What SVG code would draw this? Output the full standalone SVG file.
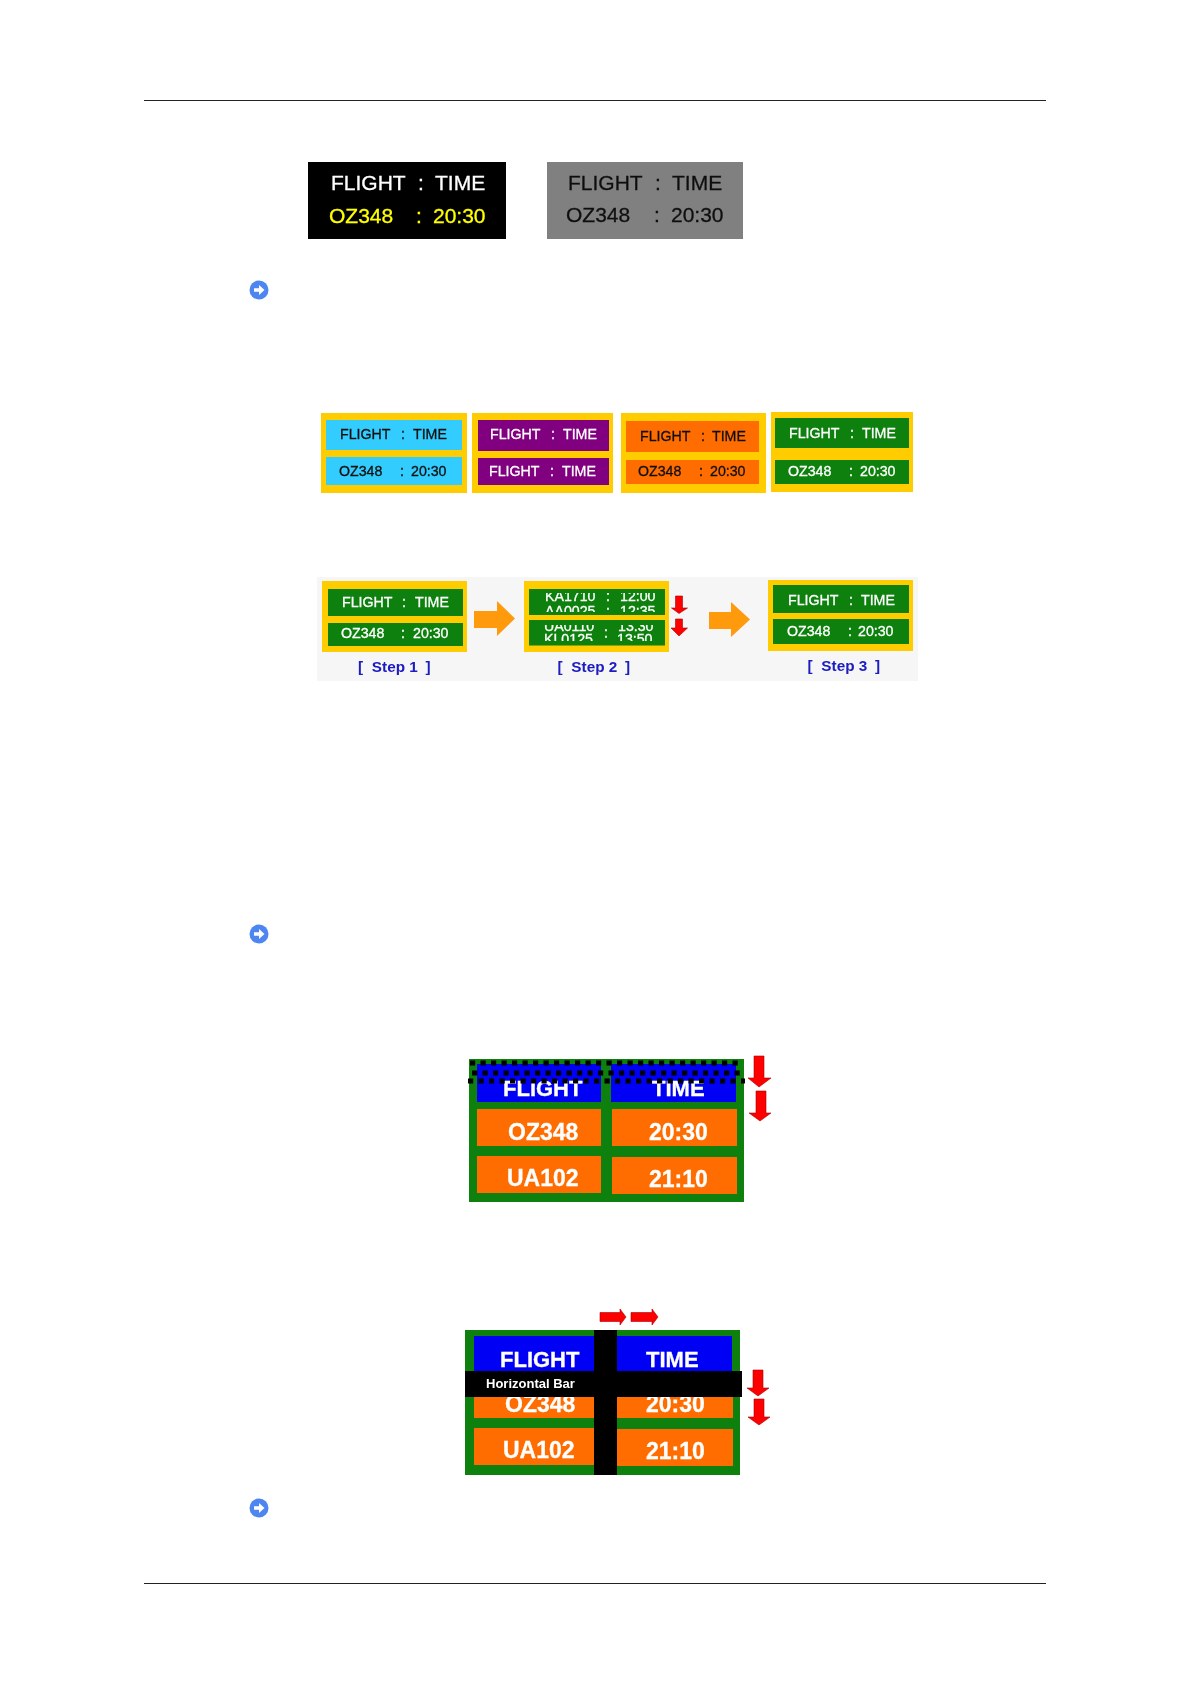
<svg xmlns="http://www.w3.org/2000/svg" width="1191" height="1684" viewBox="0 0 1191 1684">
<style>
text{font-family:"Liberation Sans",Arial,sans-serif;stroke-width:.3px}
.a{font-size:21px}.b{font-size:14.2px}
.h{font-weight:bold;font-size:22px;fill:#fff;stroke:#fff}
.s{font-weight:bold;font-size:15.3px;fill:#1a1ac0}
.w{fill:#fff;stroke:#fff}.k{fill:#111;stroke:#111}.y{fill:#ff0;stroke:#ff0}.g{fill:#ffcc00}.gr{fill:#0a800a}.o{fill:#ff6c00}.bl{fill:#0000f5}
.red{fill:#f00;stroke:#a00;stroke-width:.6}.ar{fill:#ff9a10}
.dot{stroke:#000;stroke-width:5.2;stroke-dasharray:5.2 5.3;fill:none}
</style>
<defs>
<filter id="soft" x="-5%" y="-5%" width="110%" height="110%"><feGaussianBlur stdDeviation="0.45"/></filter>
<clipPath id="c1"><rect x="529" y="593" width="136" height="19"/></clipPath>
<clipPath id="c2"><rect x="529" y="625" width="136" height="16"/></clipPath>
<g id="icon"><circle r="9.5" fill="#4d86f0"/><path d="M-5-1.8H0V-5L5.5 0 0 5V1.800H-5Z" fill="#fff"/></g>
</defs>
<g id="rules" stroke="#222" stroke-width="1"><path d="M144 100.500H1046M144 1583.500H1046"/></g>
<g id="icons"><use href="#icon" x="259" y="290"/><use href="#icon" x="259" y="934"/><use href="#icon" x="259" y="1508"/></g>
<g filter="url(#soft)">
<g id="contrast-black"><rect x="308" y="162" width="198" height="77" fill="#000"/>
<text class="a w" x="331" y="190">FLIGHT</text><text class="a w" x="418" y="190">:</text><text class="a w" x="435" y="190">TIME</text>
<text class="a y" x="329" y="223">OZ348</text><text class="a y" x="416" y="223">:</text><text class="a y" x="433" y="223">20:30</text></g>
<g id="contrast-gray"><rect x="547" y="162" width="196" height="77" fill="#808080"/>
<text class="a k" x="568" y="190">FLIGHT</text><text class="a k" x="655" y="190">:</text><text class="a k" x="672" y="190">TIME</text>
<text class="a k" x="566" y="222">OZ348</text><text class="a k" x="654" y="222">:</text><text class="a k" x="671" y="222">20:30</text></g>

<g id="panel-cyan"><rect class="g" x="321" y="413" width="146" height="80"/><rect x="326" y="420" width="136" height="30" fill="#33ccff"/><rect x="326" y="457" width="136" height="28" fill="#33ccff"/>
<text class="b k" x="340" y="439">FLIGHT</text><text class="b k" x="401" y="439">:</text><text class="b k" x="413" y="439">TIME</text>
<text class="b k" x="339" y="476">OZ348</text><text class="b k" x="400" y="476">:</text><text class="b k" x="411" y="476">20:30</text></g>
<g id="panel-purple"><rect class="g" x="472" y="413" width="141" height="80"/><rect x="478" y="420" width="131" height="31" fill="#800080"/><rect x="478" y="458" width="131" height="27" fill="#800080"/>
<text class="b w" x="490" y="439">FLIGHT</text><text class="b w" x="551" y="439">:</text><text class="b w" x="563" y="439">TIME</text>
<text class="b w" x="489" y="476">FLIGHT</text><text class="b w" x="550" y="476">:</text><text class="b w" x="562" y="476">TIME</text></g>
<g id="panel-orange"><rect class="g" x="621" y="413" width="145" height="80"/><rect class="o" x="626" y="421" width="133" height="31"/><rect class="o" x="626" y="460" width="133" height="24"/>
<text class="b k" x="640" y="441">FLIGHT</text><text class="b k" x="701" y="441">:</text><text class="b k" x="712" y="441">TIME</text>
<text class="b k" x="638" y="476">OZ348</text><text class="b k" x="699" y="476">:</text><text class="b k" x="710" y="476">20:30</text></g>
<g id="panel-green"><rect class="g" x="771" y="412" width="142" height="80"/><rect class="gr" x="775" y="418" width="134" height="30"/><rect class="gr" x="775" y="460" width="134" height="24"/>
<text class="b w" x="789" y="438">FLIGHT</text><text class="b w" x="850" y="438">:</text><text class="b w" x="862" y="438">TIME</text>
<text class="b w" x="788" y="476">OZ348</text><text class="b w" x="849" y="476">:</text><text class="b w" x="860" y="476">20:30</text></g>

<g id="steps-bg"><rect x="317" y="577" width="601" height="104" fill="#f6f6f7"/></g>
<g id="step1"><rect class="g" x="322" y="581" width="145" height="71"/><rect class="gr" x="328" y="589" width="135" height="27"/><rect class="gr" x="328" y="623" width="135" height="23"/>
<text class="b w" x="342" y="607">FLIGHT</text><text class="b w" x="402" y="607">:</text><text class="b w" x="415" y="607">TIME</text>
<text class="b w" x="341" y="638">OZ348</text><text class="b w" x="401" y="638">:</text><text class="b w" x="413" y="638">20:30</text>
<text class="s" x="358" y="671.500">[ <tspan dx="4.500">Step 1</tspan> <tspan dx="3.500">]</tspan></text></g>
<g id="step2"><rect class="g" x="524" y="581" width="145" height="71"/><rect class="gr" x="529" y="589" width="136" height="26"/><rect class="gr" x="529" y="620" width="136" height="25.500"/>
<g clip-path="url(#c1)"><text class="b w" x="545" y="601">KA1710</text><text class="b w" x="606" y="601">:</text><text class="b w" x="620" y="601">12:00</text>
<text class="b w" x="545" y="615.500">AA0025</text><text class="b w" x="606" y="615.500">:</text><text class="b w" x="620" y="615.500">12:35</text></g>
<g clip-path="url(#c2)"><text class="b w" x="544" y="630.700">UA0110</text><text class="b w" x="604" y="630.700">:</text><text class="b w" x="618" y="630.700">13:30</text>
<text class="b w" x="544" y="643.500">KL0125</text><text class="b w" x="604" y="643.500">:</text><text class="b w" x="617" y="643.500">13:50</text></g>
<text class="s" x="557.500" y="672">[ <tspan dx="4.500">Step 2</tspan> <tspan dx="3.500">]</tspan></text></g>
<g id="step3"><rect class="g" x="768" y="580" width="145" height="71"/><rect class="gr" x="773" y="585" width="136" height="28"/><rect class="gr" x="773" y="619" width="136" height="25"/>
<text class="b w" x="788" y="605">FLIGHT</text><text class="b w" x="849" y="605">:</text><text class="b w" x="861" y="605">TIME</text>
<text class="b w" x="787" y="636">OZ348</text><text class="b w" x="848" y="636">:</text><text class="b w" x="858" y="636">20:30</text>
<text class="s" x="807.500" y="671">[ <tspan dx="4.500">Step 3</tspan> <tspan dx="3.500">]</tspan></text></g>
<g id="connectors">
<path class="ar" d="M474 611H497V601L515 618.500 497 636V628H474Z"/>
<path class="ar" d="M709 612H731V602L750 619.500 731 637V629H709Z"/>
<path class="red" d="M675.500 596H682.500V608H687.500L679 613.500 671.500 608H675.500Z"/>
<path class="red" d="M675.500 619H682.500V628H687.500L679 636 671 628H675.500Z"/>
<path class="red" d="M754 1056H764V1078H771L759 1087 748 1078H754Z"/>
<path class="red" d="M756 1091H766V1113H771L760 1121 749 1113H756Z"/>
<path class="red" d="M600 1312.500H620V1309L626 1317 620 1325V1321.500H600Z"/>
<path class="red" d="M631 1312.500H652V1309L658 1317 652 1325V1321.500H631Z"/>
<path class="red" d="M753 1370H763V1388H769L758 1396 747 1388H753Z"/>
<path class="red" d="M754 1399H764V1417H770L759 1425 748 1417H754Z"/>
</g>

<g id="table-dots"><rect class="gr" x="469" y="1059" width="275" height="143"/>
<rect class="bl" x="477" y="1064" width="124" height="38"/><rect class="bl" x="611" y="1064" width="125" height="38"/>
<rect class="o" x="477" y="1109" width="124" height="37"/><rect class="o" x="612" y="1109" width="125" height="37"/>
<rect class="o" x="477" y="1156" width="124" height="37"/><rect class="o" x="612" y="1157" width="125" height="37"/>
<text class="h" x="503" y="1096">FLIGHT</text><text class="h" x="652" y="1096">TIME</text>
<text class="h" x="508" y="1140" style="font-size:23px">OZ348</text><text class="h" x="649" y="1140" style="font-size:23px">20:30</text>
<text class="h" x="507" y="1186" style="font-size:23px">UA102</text><text class="h" x="649" y="1187" style="font-size:23px">21:10</text>
<path class="dot" d="M470 1063H738M472 1073H745M468 1081H745"/></g>

<g id="table-bars"><rect class="gr" x="465" y="1330" width="275" height="145"/>
<rect class="bl" x="474" y="1336" width="258" height="36"/>
<rect class="o" x="474" y="1390" width="259" height="28"/>
<rect class="o" x="474" y="1428" width="120" height="37"/><rect class="o" x="617" y="1429" width="116" height="37"/>
<text class="h" x="500" y="1367">FLIGHT</text><text class="h" x="646" y="1367">TIME</text>
<text class="h" x="505" y="1412" style="font-size:23px">OZ348</text><text class="h" x="646" y="1412" style="font-size:23px">20:30</text>
<text class="h" x="503" y="1458" style="font-size:23px">UA102</text><text class="h" x="646" y="1459" style="font-size:23px">21:10</text>
<rect x="465" y="1371" width="277" height="26" fill="#000"/><rect x="594" y="1330" width="23" height="145" fill="#000"/>
<text x="486" y="1388" font-size="13" font-weight="bold" fill="#fff">Horizontal Bar</text></g>
</g>
</svg>
